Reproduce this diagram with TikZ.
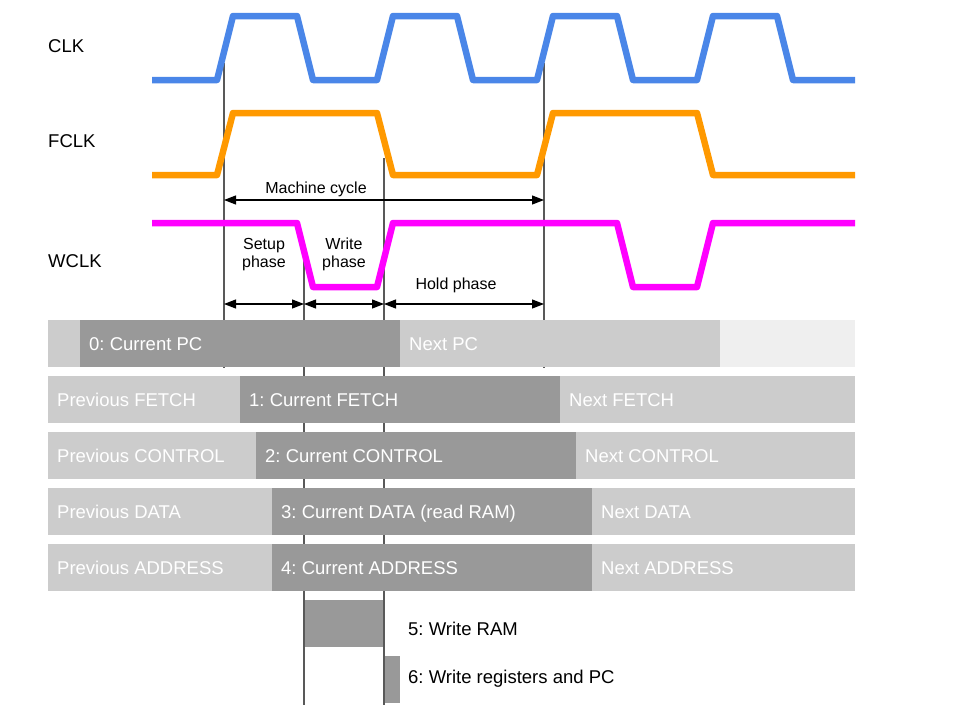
\documentclass[tikz,border=0pt]{standalone}
\usepackage{fontspec}
\setmainfont{Liberation Sans}
\usetikzlibrary{arrows.meta}
\definecolor{clkblue}{HTML}{4A86E8}
\definecolor{forange}{HTML}{FF9900}
\definecolor{wmag}{HTML}{FF00FF}
\definecolor{dgray}{HTML}{999999}
\definecolor{lgray}{HTML}{CCCCCC}
\definecolor{vlgray}{HTML}{EFEFEF}
\definecolor{vline}{HTML}{595959}
\frenchspacing
\begin{document}
\begin{tikzpicture}[x=1pt,y=-1pt,
 sig/.style={line width=6.5pt, line join=round},
 vl/.style={draw=vline, line width=1.3pt},
 dim/.style={line width=1.2pt, {Triangle[length=12pt,width=9pt]}-{Triangle[length=12pt,width=9pt]}},
 lbl/.style={font=\fontsize{18.5}{22}\selectfont, anchor=base west, inner sep=0},
 bartxt/.style={lbl, text=white},
 small/.style={font=\fontsize{16}{18}\selectfont, anchor=base, inner sep=0}]
\useasboundingbox (0,0) rectangle (960,720);

% signal labels
\node[lbl] (clk) at (48,52) {CLK};
\node[lbl] (fclk) at (48,147) {FCLK};
\node[lbl] (wclk) at (48,267) {WCLK};

% boxes 5 and 6
\fill[dgray] (304,600) rectangle (384,647);
\fill[dgray] (383,656) rectangle (400,703);

% vertical reference lines
\coordinate (v1t) at (224,63);  \coordinate (v1b) at (224,368);
\coordinate (v2t) at (304,255); \coordinate (v2b) at (304,705);
\coordinate (v3t) at (384,158); \coordinate (v3b) at (384,705);
\coordinate (v4t) at (544,63);  \coordinate (v4b) at (544,368);
\draw[vl] (v1t) -- (v1b);
\draw[vl] (v2t) -- (v2b);
\draw[vl] (v3t) -- (v3b);
\draw[vl] (v4t) -- (v4b);

% signals
\draw[sig, clkblue] (152,80) -- (217,80) -- (233,16) -- (297,16) -- (313,80) -- (377,80) -- (393,16) -- (457,16) -- (473,80) -- (537,80) -- (553,16) -- (617,16) -- (633,80) -- (697,80) -- (713,16) -- (777,16) -- (793,80) -- (855,80);
\draw[sig, forange] (152,175) -- (217,175) -- (233,113) -- (377,113) -- (393,175) -- (537,175) -- (553,113) -- (697,113) -- (713,175) -- (855,175);
\draw[sig, wmag] (152,223) -- (297,223) -- (313,287) -- (377,287) -- (393,223) -- (617,223) -- (633,287) -- (697,287) -- (713,223) -- (855,223);

% dimension arrows
\coordinate (mc1) at (224,200); \coordinate (mc2) at (544,200);
\coordinate (p1) at (224,304); \coordinate (p2) at (304,304);
\coordinate (p3) at (384,304); \coordinate (p4) at (544,304);
\draw[dim] (mc1) -- (mc2);
\draw[dim] (p1) -- (p2);
\draw[dim] (p2) -- (p3);
\draw[dim] (p3) -- (p4);
\node[small] (mctxt) at (316,193) {Machine cycle};
\node[small] (setup1) at (264,249) {Setup};
\node[small] (setup2) at (264,267) {phase};
\node[small] (write1) at (344,249) {Write};
\node[small] (write2) at (344,267) {phase};
\node[small] (hold) at (456,289) {Hold phase};

% row 0
\fill[lgray] (48,320) rectangle (80,367);
\fill[dgray] (80,320) rectangle (400,367);
\fill[lgray] (400,320) rectangle (720,367);
\fill[vlgray] (720,320) rectangle (855,367);
\node[bartxt] (r0b) at (89,350.7) {0: Current PC};
\node[bartxt] (r0c) at (409,350.7) {Next PC};

% row 1
\fill[lgray] (48,376) rectangle (240,423);
\fill[dgray] (240,376) rectangle (560,423);
\fill[lgray] (560,376) rectangle (855,423);
\node[bartxt] (r1a) at (57,406.7) {Previous FETCH};
\node[bartxt] (r1b) at (249,406.7) {1: Current FETCH};
\node[bartxt] (r1c) at (569,406.7) {Next FETCH};

% row 2
\fill[lgray] (48,432) rectangle (256,479);
\fill[dgray] (256,432) rectangle (576,479);
\fill[lgray] (576,432) rectangle (855,479);
\node[bartxt] (r2a) at (57,462.7) {Previous CONTROL};
\node[bartxt] (r2b) at (265,462.7) {2: Current CONTROL};
\node[bartxt] (r2c) at (585,462.7) {Next CONTROL};

% row 3
\fill[lgray] (48,488) rectangle (272,535);
\fill[dgray] (272,488) rectangle (592,535);
\fill[lgray] (592,488) rectangle (855,535);
\node[bartxt] (r3a) at (57,518.7) {Previous DATA};
\node[bartxt] (r3b) at (281,518.7) {3: Current DATA (read RAM)};
\node[bartxt] (r3c) at (601,518.7) {Next DATA};

% row 4
\fill[lgray] (48,544) rectangle (272,591);
\fill[dgray] (272,544) rectangle (592,591);
\fill[lgray] (592,544) rectangle (855,591);
\node[bartxt] (r4a) at (57,574.7) {Previous ADDRESS};
\node[bartxt] (r4b) at (281,574.7) {4: Current ADDRESS};
\node[bartxt] (r4c) at (601,574.7) {Next ADDRESS};

% rows 5 and 6
\node[lbl] (r5) at (408,635) {5: Write RAM};
\node[lbl] (r6) at (408,683) {6: Write registers and PC};
\end{tikzpicture}
\end{document}
